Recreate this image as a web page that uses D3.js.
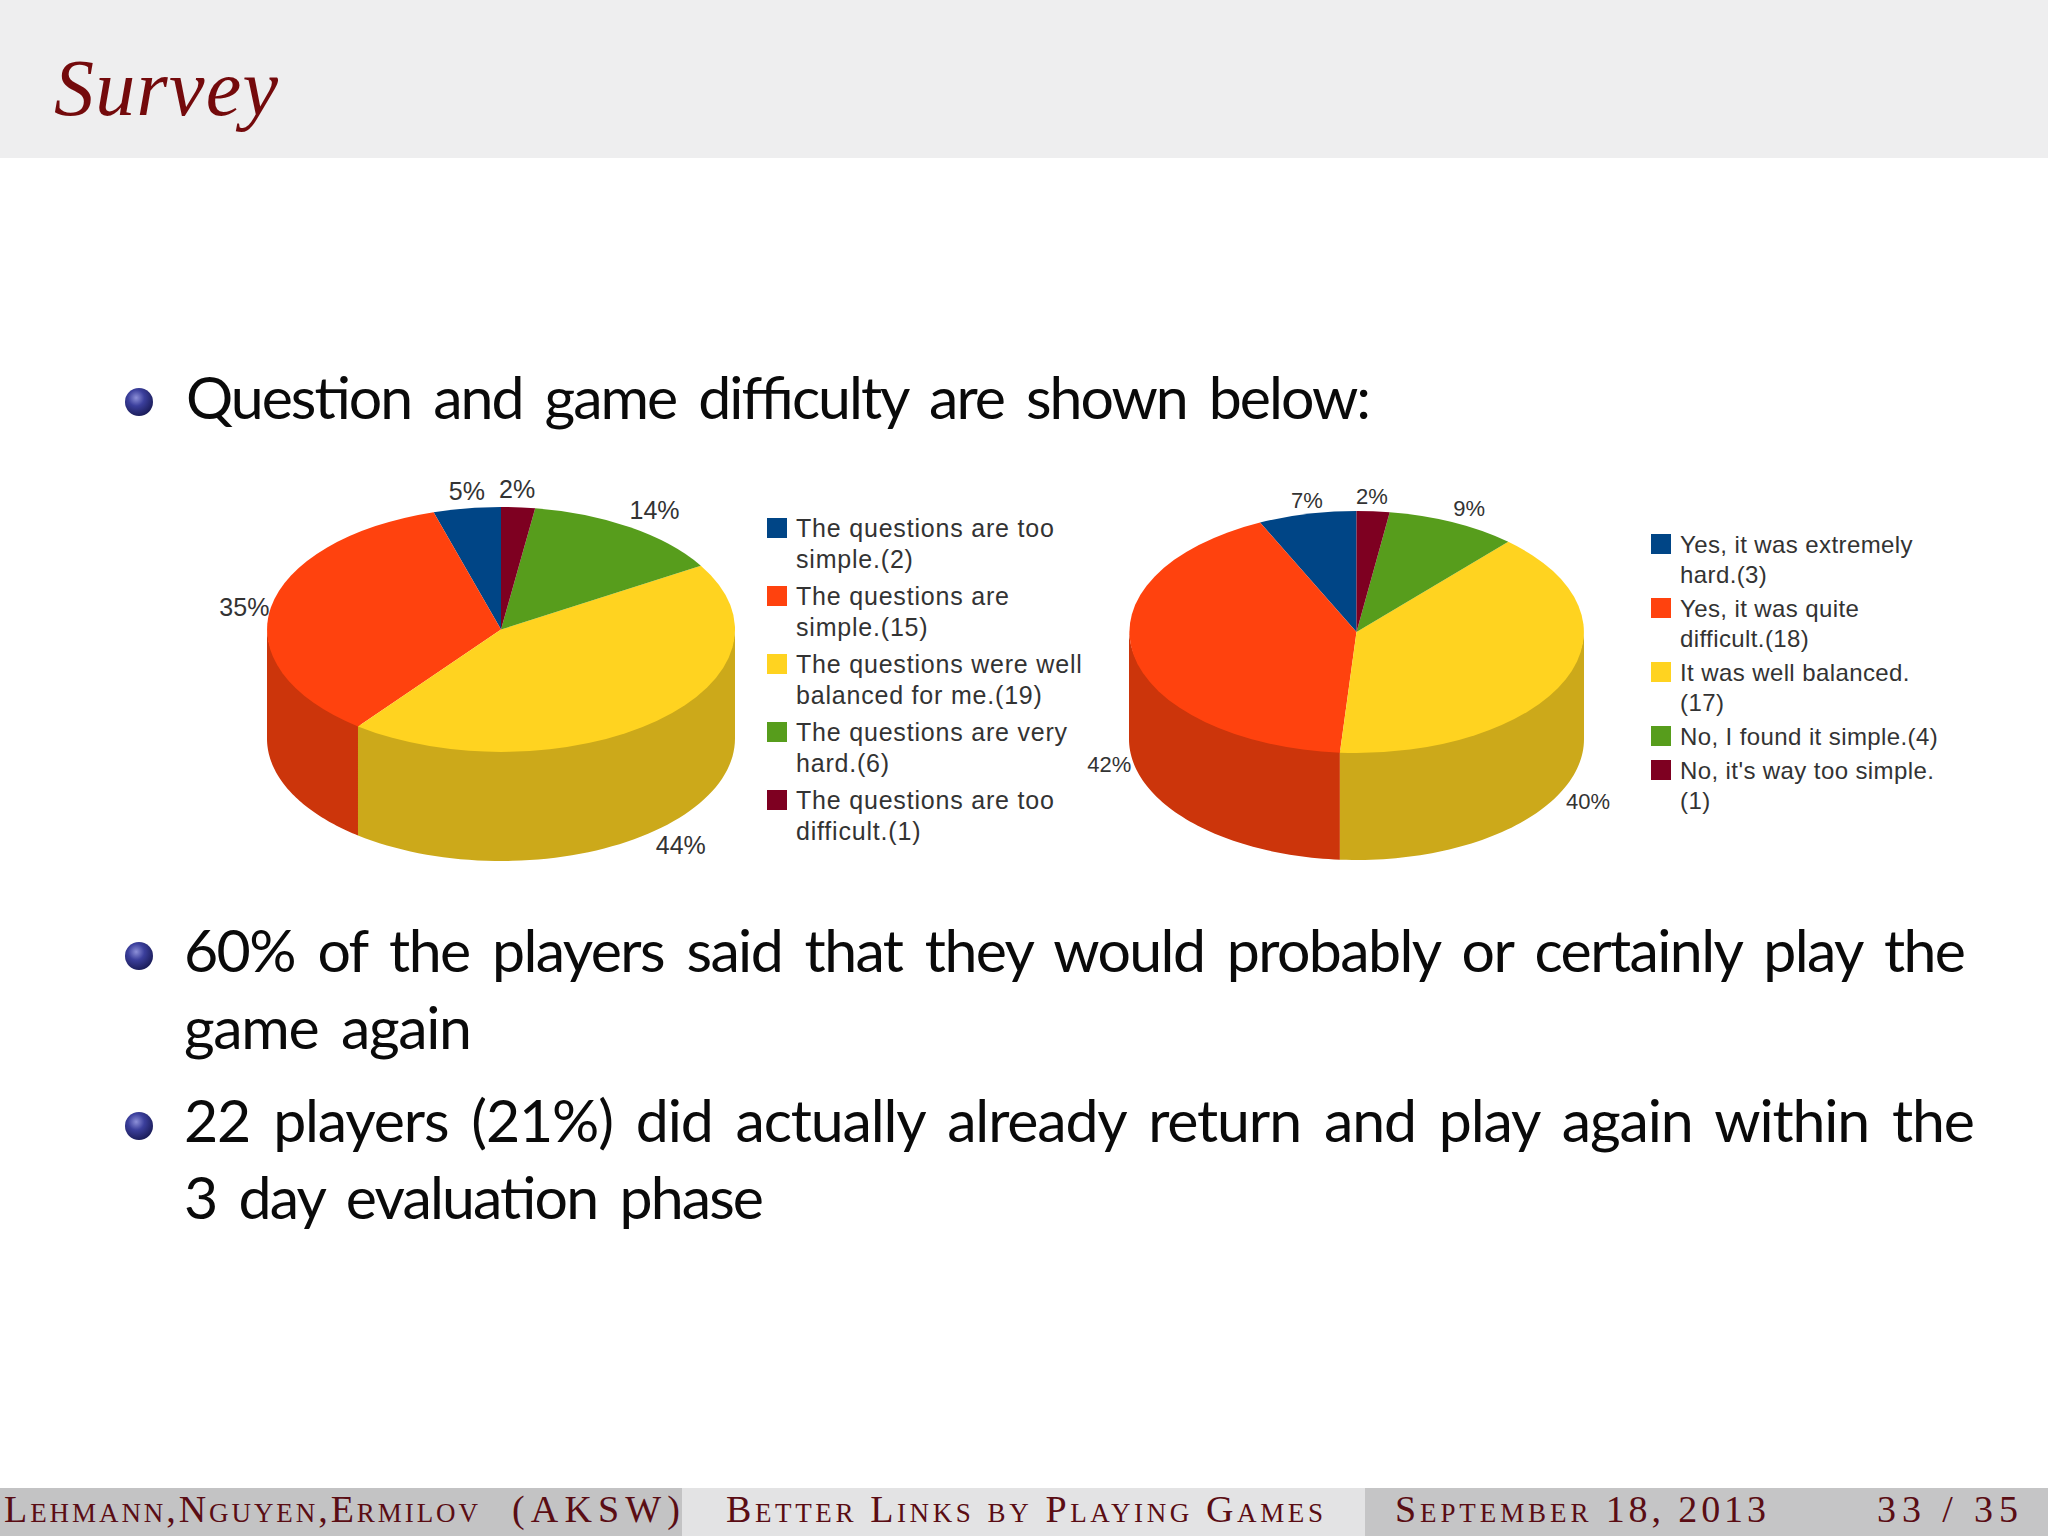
<!DOCTYPE html>
<html>
<head>
<meta charset="utf-8">
<script src="https://d3js.org/d3.v7.min.js"></script>
<style>
  html, body { margin: 0; padding: 0; background: #fff; }
  svg { display: block; }
  .pie-text { font-family: "Liberation Sans", sans-serif; fill: #333; }
  .body-text { font-family: "Lato", sans-serif; font-size: 59px; word-spacing: 9px; fill: #0a0a0a; }
  .foot-text { font-family: "Liberation Serif", serif; font-size: 38px; font-variant: small-caps; fill: #5a0d14; }
</style>
</head>
<body>
<div id="slide"></div>
<script>
// values (vote counts, the percent labels come from them)
const sliceColors = ['#004586', '#ff420e', '#ffd320', '#579d1c', '#7e0021'];

const leftValues = [2, 15, 19, 6, 1];
const leftLegend = [
    ['The questions are too', 'simple.(2)'],
    ['The questions are', 'simple.(15)'],
    ['The questions were well', 'balanced for me.(19)'],
    ['The questions are very', 'hard.(6)'],
    ['The questions are too', 'difficult.(1)']
];

const rightValues = [3, 18, 17, 4, 1];
const rightLegend = [
    ['Yes, it was extremely', 'hard.(3)'],
    ['Yes, it was quite', 'difficult.(18)'],
    ['It was well balanced.', '(17)'],
    ['No, I found it simple.(4)'],
    ["No, it's way too simple.", '(1)']
];

const width = 2048, height = 1536;

const svg = d3.select('#slide').append('svg')
    .attr('width', width)
    .attr('height', height)
    .attr('viewBox', `0 0 ${width} ${height}`);

/* ---- slide furniture ---- */

const defs = svg.append('defs');
const ball = defs.append('radialGradient').attr('id', 'ball')
    .attr('cx', '40%').attr('cy', '35%').attr('r', '65%');
ball.append('stop').attr('offset', '0%').attr('stop-color', '#8d90d8');
ball.append('stop').attr('offset', '45%').attr('stop-color', '#3b3f9c');
ball.append('stop').attr('offset', '100%').attr('stop-color', '#1c1e5c');

svg.append('rect').attr('width', width).attr('height', 158).attr('fill', '#eeeeef');

svg.append('text')
    .attr('x', 54).attr('y', 115)
    .attr('textLength', 224).attr('lengthAdjust', 'spacing')
    .style('font-family', '"Liberation Serif", serif')
    .style('font-style', 'italic')
    .style('font-size', '80px')
    .attr('fill', '#740a0c')
    .text('Survey');

const bullets = [402, 956, 1126];
svg.selectAll('.bullet').data(bullets).enter().append('circle')
    .attr('class', 'bullet')
    .attr('cx', 139).attr('cy', d => d).attr('r', 14)
    .attr('fill', 'url(#ball)');

const bodyLines = [
    { t: 'Question and game difficulty are shown below:', x: 186, y: 419, w: 1185 },
    { t: '60% of the players said that they would probably or certainly play the', x: 184, y: 972, w: 1782 },
    { t: 'game again', x: 184, y: 1049, w: 288 },
    { t: '22 players (21%) did actually already return and play again within the', x: 184, y: 1142, w: 1791 },
    { t: '3 day evaluation phase', x: 184, y: 1219, w: 580 }
];
svg.selectAll('.body-text').data(bodyLines).enter().append('text')
    .attr('class', 'body-text')
    .attr('x', d => d.x).attr('y', d => d.y)
    .attr('textLength', d => d.w).attr('lengthAdjust', 'spacing')
    .text(d => d.t);

const footBands = [
    { x: 0, w: 682, c: '#c3c3c4' },
    { x: 682, w: 683, c: '#e3e3e4' },
    { x: 1365, w: 683, c: '#c5c5c6' }
];
svg.selectAll('.band').data(footBands).enter().append('rect')
    .attr('class', 'band')
    .attr('x', d => d.x).attr('y', 1488).attr('width', d => d.w).attr('height', 48)
    .attr('fill', d => d.c);

const footTexts = [
    { t: 'Lehmann,Nguyen,Ermilov', x: 4, w: 474 },
    { t: '(AKSW)', x: 512, w: 168 },
    { t: 'Better Links by Playing Games', x: 726, w: 597 },
    { t: 'September 18, 2013', x: 1395, w: 371 },
    { t: '33 / 35', x: 1877, w: 141 }
];
svg.selectAll('.foot-text').data(footTexts).enter().append('text')
    .attr('class', 'foot-text')
    .attr('x', d => d.x).attr('y', 1522)
    .attr('textLength', d => d.w).attr('lengthAdjust', 'spacing')
    .text(d => d.t);

/* ---- 3D pies ---- */

function drawPie(values, opts) {
    const g = svg.append('g');
    const total = d3.sum(values);

    // legend order runs counter clockwise from 12 o'clock
    const slices = d3.pie().sort(null).startAngle(0).endAngle(-2 * Math.PI)(values);

    const rimX = a => opts.cx + opts.rx * Math.sin(a);
    const rimY = a => opts.cy - opts.ry * Math.cos(a);

    // front wall, only the part of each slice facing the viewer
    // starts a bit above the rim so no white seam shows under the top face
    const wall = d3.area()
        .x(rimX)
        .y0(a => rimY(a) - 3)
        .y1(a => rimY(a) + opts.depth);

    slices.forEach(s => {
        const from = Math.max(2 * Math.PI + s.endAngle, Math.PI / 2);
        const to = Math.min(2 * Math.PI + s.startAngle, 3 * Math.PI / 2);
        if (to <= from) return;
        const steps = d3.range(0, 61).map(i => from + (to - from) * i / 60);
        const c = d3.rgb(sliceColors[s.index]);
        g.append('path')
            .attr('d', wall(steps))
            .attr('fill', d3.rgb(c.r * 0.8, c.g * 0.8, c.b * 0.8).formatHex());
    });

    // top face: unit arcs squashed to the ellipse
    const arc = d3.arc().innerRadius(0).outerRadius(1);
    g.selectAll('.top').data(slices).enter().append('path')
        .attr('class', 'top')
        .attr('transform', `translate(${opts.cx},${opts.cy}) scale(${opts.rx},${opts.ry})`)
        .attr('d', arc)
        .attr('fill', d => sliceColors[d.index]);

    // percent labels sit just outside the rim, lower half goes below the wall
    g.selectAll('.pct').data(slices).enter().append('text')
        .attr('class', 'pie-text pct')
        .attr('text-anchor', 'middle')
        .style('font-size', opts.labelSize + 'px')
        .attr('x', d => {
            const a = (d.startAngle + d.endAngle) / 2;
            return rimX(a) + opts.labelDx * Math.sin(a) + opts.nudge[d.index][0];
        })
        .attr('y', d => {
            const a = (d.startAngle + d.endAngle) / 2;
            const lower = Math.cos(a) < 0 ? opts.depth : 0;
            return rimY(a) + lower - opts.labelDy * Math.cos(a) + opts.labelSize * 0.36 + opts.nudge[d.index][1];
        })
        .text(d => Math.round(d.value / total * 100) + '%');

    // legend, items wrap over one or two lines
    let y = opts.legendY;
    opts.legend.forEach((lines, i) => {
        g.append('rect')
            .attr('x', opts.legendX).attr('y', y - opts.swatch + 5)
            .attr('width', opts.swatch).attr('height', opts.swatch)
            .attr('fill', sliceColors[i]);
        lines.forEach((line, j) => {
            g.append('text')
                .attr('class', 'pie-text')
                .attr('x', opts.legendX + opts.swatch + 9)
                .attr('y', y + 4 + j * opts.linePitch)
                .style('font-size', opts.legendSize + 'px')
                .style('letter-spacing', opts.legendTrack + 'px')
                .text(line);
        });
        y += lines.length * opts.linePitch + opts.itemGap;
    });
}

drawPie(leftValues, {
    cx: 501, cy: 629.5, rx: 234, ry: 122.5, depth: 109,
    labelSize: 25, labelDx: 28, labelDy: 17,
    nudge: [[4, 0], [1, 3], [5, 3], [9, -3], [-3, -1]],
    legend: leftLegend, legendX: 767, legendY: 533,
    swatch: 20, linePitch: 31, itemGap: 6, legendSize: 25, legendTrack: 0.8
});

drawPie(rightValues, {
    cx: 1356.5, cy: 632, rx: 227.5, ry: 121, depth: 107,
    labelSize: 22, labelDx: 24, labelDy: 15,
    nudge: [[5, 1], [0, 0], [0, 9], [6, -1], [-3, 0]],
    legend: rightLegend, legendX: 1651, legendY: 549,
    swatch: 20, linePitch: 30, itemGap: 4, legendSize: 24, legendTrack: 0.4
});
</script>
</body>
</html>
